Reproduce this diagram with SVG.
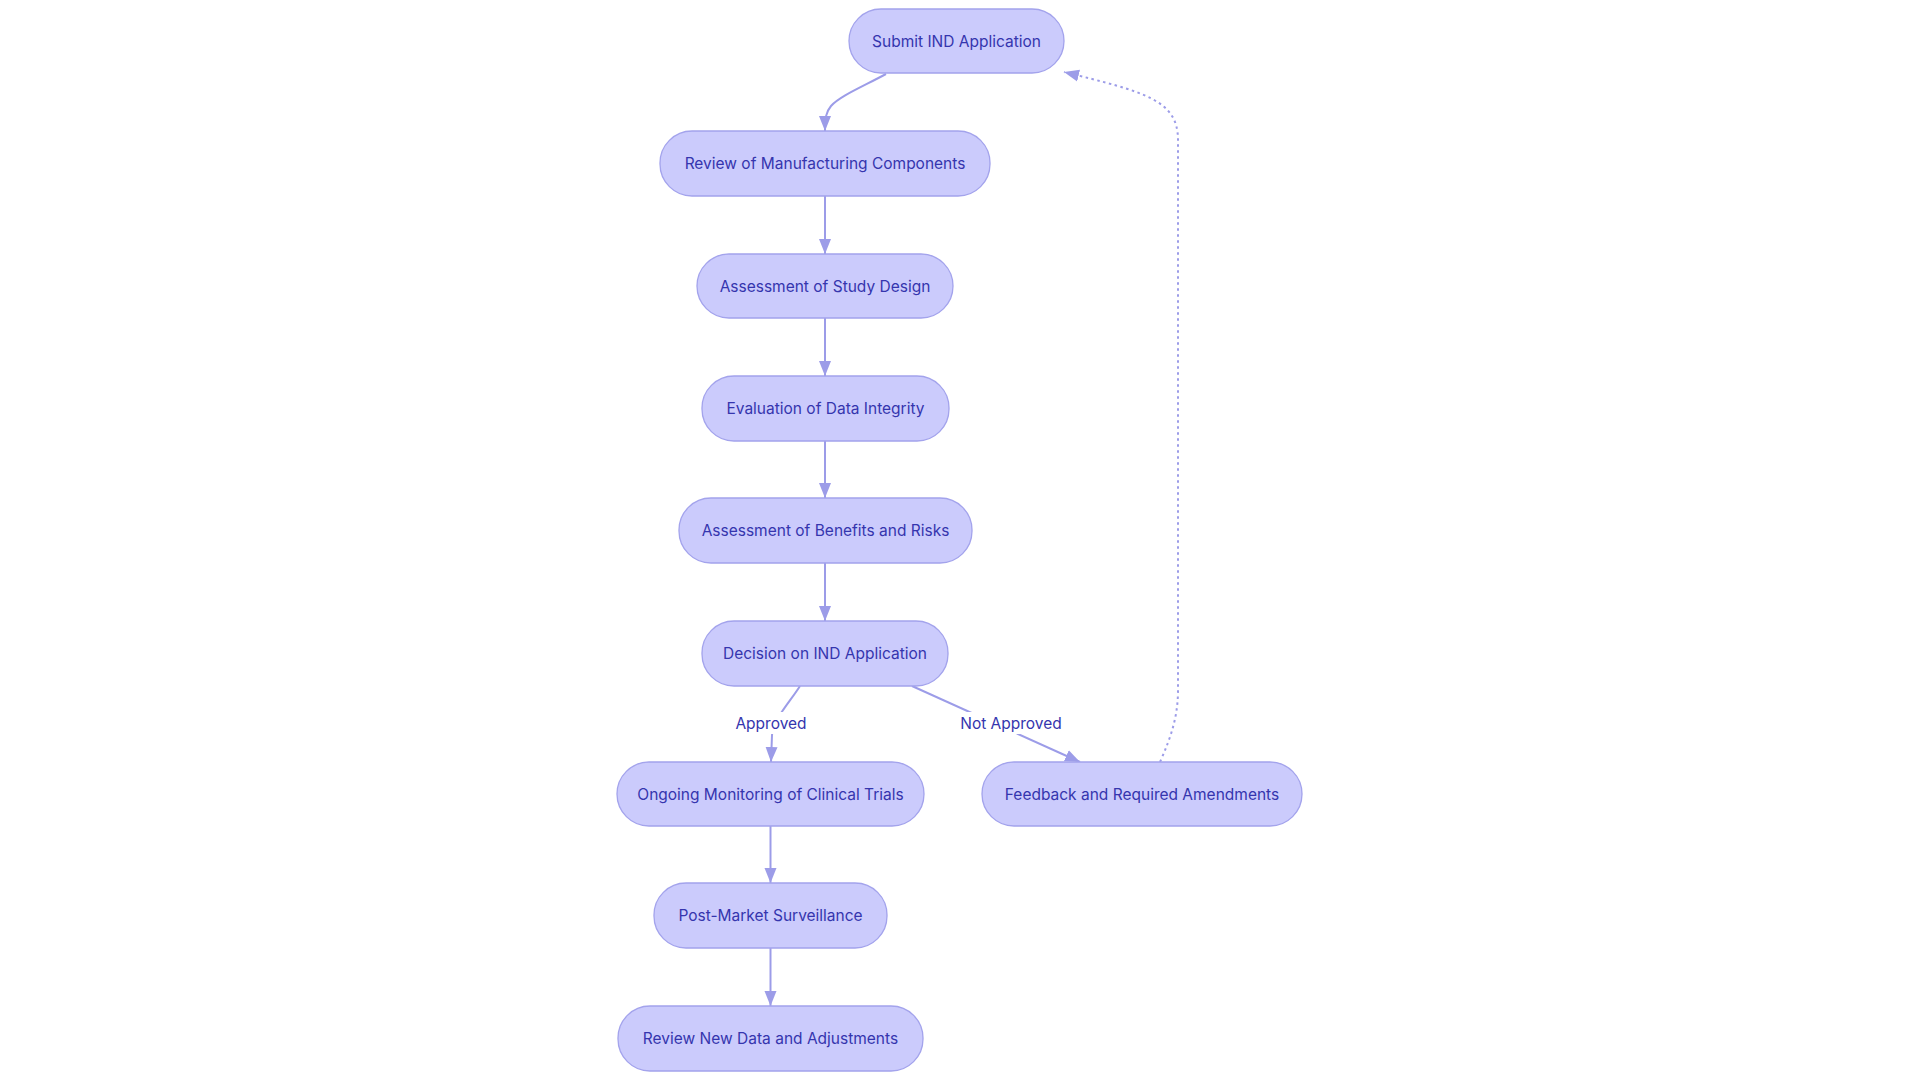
<svg xmlns="http://www.w3.org/2000/svg" width="1920" height="1080" viewBox="0 0 1920 1080">
<style>
.node rect{fill:#CBCBFC;stroke:#A3A3EC;stroke-width:1.3}
.node text,.lbl text{font-family:Inter,"Noto Sans",sans-serif;font-size:15.5px;fill:#3535AE;text-anchor:middle;dominant-baseline:central}
.edge{fill:none;stroke:#9C9CE8;stroke-width:2}
.dot{fill:none;stroke:#9C9CE8;stroke-width:2;stroke-dasharray:2.5 3.5}
.lbl rect{fill:#ffffff}
</style>
<defs>
<marker id="arr" markerUnits="userSpaceOnUse" markerWidth="16" markerHeight="16" viewBox="0 0 16 16" refX="15" refY="8" orient="auto">
<path d="M0,2 L15,8 L0,14 Z" fill="#9C9CE8"/>
</marker>
</defs>
<rect width="1920" height="1080" fill="#ffffff"/>
<g id="connectors">
<path class="edge" d="M886,74 C862,87 840,96 831,106 C826,112 825,118 825,131" marker-end="url(#arr)"/>
<path class="edge" d="M825,196 L825,254" marker-end="url(#arr)"/>
<path class="edge" d="M825,318 L825,376" marker-end="url(#arr)"/>
<path class="edge" d="M825,441 L825,498" marker-end="url(#arr)"/>
<path class="edge" d="M825,563 L825,621" marker-end="url(#arr)"/>
<path class="edge" d="M800,686 C790,702 774,718 772,735 L771,762" marker-end="url(#arr)"/>
<path class="edge" d="M912,686 L1080,762" marker-end="url(#arr)"/>
<path class="edge" d="M770.5,826 L770.5,883" marker-end="url(#arr)"/>
<path class="edge" d="M770.5,948 L770.5,1006" marker-end="url(#arr)"/>
<path class="dot" d="M1160,762 C1172,735 1178,715 1178,690 L1178,140 C1178,100 1145,92 1064,72" marker-end="url(#arr)"/>
<g class="lbl"><rect x="736" y="712" width="70" height="22"/><text x="771" y="723">Approved</text></g>
<g class="lbl"><rect x="962" y="712" width="98" height="22"/><text x="1011" y="723">Not Approved</text></g>
</g>
<g id="n1" class="node"><rect x="849" y="9" width="215" height="64" rx="32"/><text x="956.5" y="41">Submit IND Application</text></g>
<g id="n2" class="node"><rect x="660" y="131" width="330" height="65" rx="32"/><text x="825" y="163.5">Review of Manufacturing Components</text></g>
<g id="n3" class="node"><rect x="697" y="254" width="256" height="64" rx="32"/><text x="825" y="286">Assessment of Study Design</text></g>
<g id="n4" class="node"><rect x="702" y="376" width="247" height="65" rx="32"/><text x="825.5" y="408.5">Evaluation of Data Integrity</text></g>
<g id="n5" class="node"><rect x="679" y="498" width="293" height="65" rx="32"/><text x="825.5" y="530.5">Assessment of Benefits and Risks</text></g>
<g id="n6" class="node"><rect x="702" y="621" width="246" height="65" rx="32"/><text x="825" y="653.5">Decision on IND Application</text></g>
<g id="n7" class="node"><rect x="617" y="762" width="307" height="64" rx="32"/><text x="770.5" y="794">Ongoing Monitoring of Clinical Trials</text></g>
<g id="n8" class="node"><rect x="982" y="762" width="320" height="64" rx="32"/><text x="1142" y="794">Feedback and Required Amendments</text></g>
<g id="n9" class="node"><rect x="654" y="883" width="233" height="65" rx="32"/><text x="770.5" y="915.5">Post-Market Surveillance</text></g>
<g id="n10" class="node"><rect x="618" y="1006" width="305" height="65" rx="32"/><text x="770.5" y="1038.5">Review New Data and Adjustments</text></g>
</svg>
